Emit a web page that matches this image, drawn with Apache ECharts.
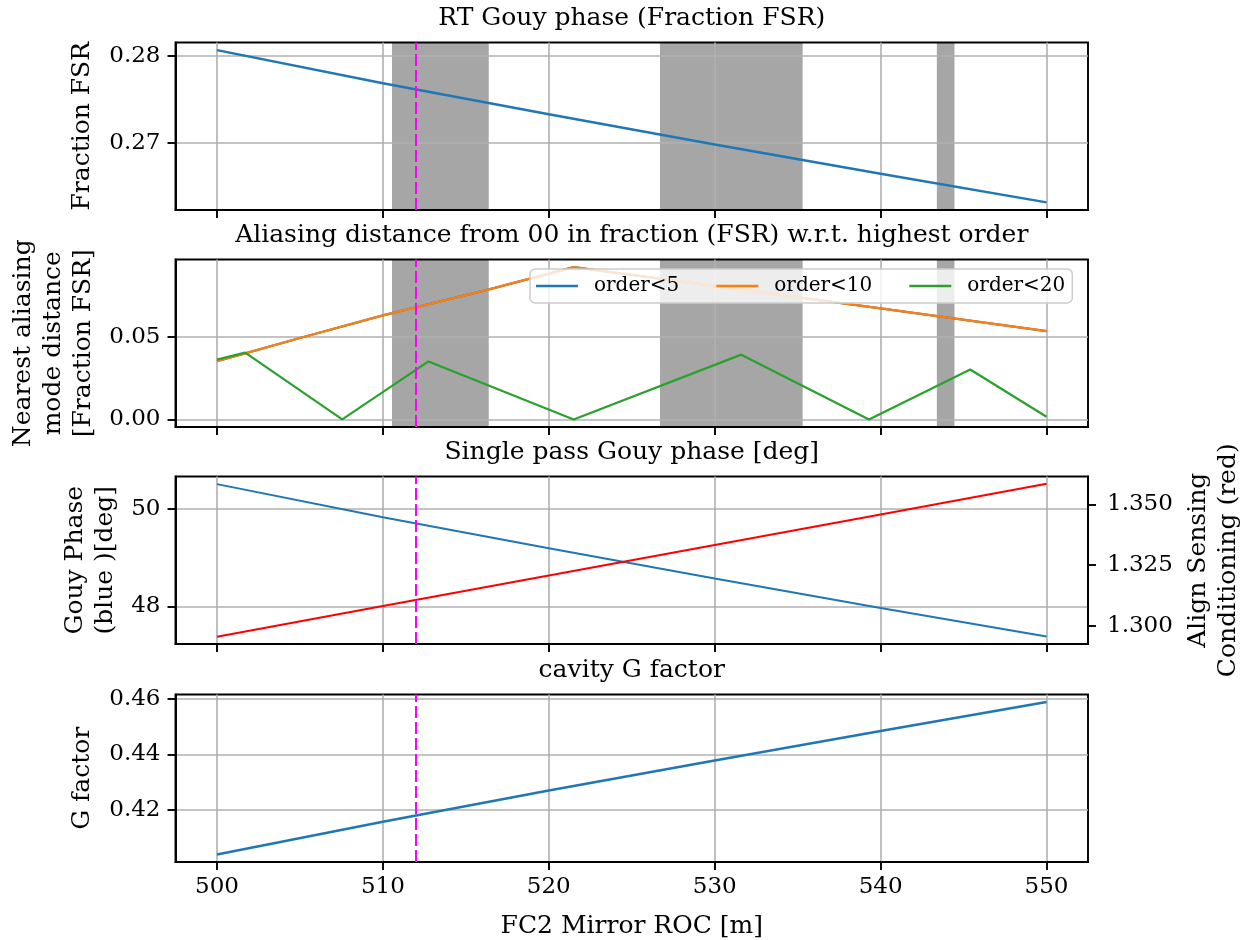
<!DOCTYPE html>
<html>
<head>
<meta charset="utf-8">
<script src="https://cdn.jsdelivr.net/npm/echarts@6/dist/echarts.min.js"></script>
<style>
html,body{margin:0;padding:0;background:#fff;}
#chart{width:1251px;height:940px;}
</style>
</head>
<body>
<div id="chart"></div>
<script>
// ---------------- data ----------------
const X_TICKS = [500, 510, 520, 530, 540, 550];

// panel 1: RT Gouy phase (fraction FSR)
const rtX = [500, 510, 520, 530, 540, 550];
const rtY = [0.28063, 0.27684, 0.27331, 0.26985, 0.26650, 0.26324];

// panel 2: aliasing distance
const aliasLowX = [500, 501.7, 505, 510, 516.4, 521.5, 540, 550];
const order5Y  = [0.0352, 0.0400, 0.0493, 0.0630, 0.0787, 0.0922, 0.0672, 0.0534];
const order10Y = [0.0352, 0.0400, 0.0493, 0.0630, 0.0787, 0.0922, 0.0672, 0.0534];
const order20X = [500, 501.7, 507.55, 512.75, 521.5, 531.6, 539.3, 545.4, 550];
const order20Y = [0.0362, 0.0404, 0.0, 0.0351, 0.0, 0.0392, 0.0, 0.0302, 0.0016];

// panel 3: single pass Gouy phase and align sensing conditioning
const spX = [500, 510, 520, 530, 540, 550];
const gouyDegY = [50.513, 49.831, 49.196, 48.573, 47.970, 47.383];
const alignY   = [1.2956, 1.3082, 1.3207, 1.3333, 1.3458, 1.3584];

// panel 4: cavity G factor
const gX = [500, 510, 520, 530, 540, 550];
const gY = [0.4040, 0.4158, 0.4270, 0.4378, 0.4484, 0.4588];

// shaded bands (start, end) and marker
const shadeStart = [510.55, 526.70, 543.39];
const shadeEnd   = [516.38, 535.30, 544.45];
const MARK_X = 512;

// tick values
const yTicks1 = [0.27, 0.28];
const yTicks2 = [0.00, 0.05];
const yTicks3L = [48, 50];
const yTicks3R = [1.300, 1.325, 1.350];
const yTicks4 = [0.42, 0.44, 0.46];

const legendNames = ['order<5', 'order<10', 'order<20'];
const titles = [
  'RT Gouy phase (Fraction FSR)',
  'Aliasing distance from 00 in fraction (FSR) w.r.t. highest order',
  'Single pass Gouy phase [deg]',
  'cavity G factor'
];

// ---------------- build ----------------
const zip = (xs, ys) => xs.map((x, i) => [x, ys[i]]);
const FONT = "'DejaVu Serif', serif";
const GRID_LEFT = 175.5, GRID_W = 912.5, GRID_H = 167.5;
const GRID_TOPS = [42.5, 259.5, 476.5, 694.5];
const TITLE_TOPS = [6, 223, 440, 657.5];
const X_MIN = 497.5, X_MAX = 552.5;
const BLUE = '#1f77b4', ORANGE = '#ff7f0e', GREEN = '#2ca02c';

const grids = GRID_TOPS.map(t => ({
  left: GRID_LEFT, top: t, width: GRID_W, height: GRID_H,
  outerBoundsMode: 'none', containLabel: false,
  show: true, borderColor: '#000', borderWidth: 1.9, backgroundColor: 'transparent'
}));

function xAxisFor(i, showLabels) {
  return {
    type: 'value', gridIndex: i, min: X_MIN, max: X_MAX,
    axisLine: { show: true, onZero: false, lineStyle: { color: '#000', width: 1.9 } },
    axisTick: { show: true, length: 8, customValues: X_TICKS, lineStyle: { color: '#000', width: 1.9 } },
    axisLabel: { show: showLabels, customValues: X_TICKS, fontSize: 23, color: '#000', fontFamily: FONT, margin: 14 },
    splitLine: { show: true, lineStyle: { color: '#b0b0b0', width: 1.6 } },
    name: showLabels ? 'FC2 Mirror ROC [m]' : '',
    nameLocation: 'middle', nameGap: 52,
    nameTextStyle: { fontSize: 25, color: '#000', fontFamily: FONT }
  };
}

function yAxisFor(i, min, max, ticks, decimals, name, nameGap, opts) {
  opts = opts || {};
  return Object.assign({
    type: 'value', gridIndex: i, min: min, max: max,
    position: 'left',
    axisLine: { show: true, onZero: false, lineStyle: { color: '#000', width: 1.9 } },
    axisTick: { show: true, length: 8, customValues: ticks, lineStyle: { color: '#000', width: 1.9 } },
    axisLabel: { show: true, customValues: ticks, fontSize: 23, color: '#000', fontFamily: FONT, margin: 15,
      formatter: v => Number(v).toFixed(decimals) },
    splitLine: { show: true, lineStyle: { color: '#b0b0b0', width: 1.6 } },
    name: name, nameLocation: 'middle', nameRotate: 90, nameGap: nameGap,
    nameTextStyle: { fontSize: 25, color: '#000', fontFamily: FONT, lineHeight: 30, align: 'center' }
  }, opts);
}

const markLine = {
  silent: true, symbol: ['none', 'none'], label: { show: false },
  lineStyle: { color: '#ff00ff', type: [12, 4], width: 2 },
  data: [{ xAxis: MARK_X }]
};

function shadeSeries(i) {
  return {
    type: 'custom', xAxisIndex: i, yAxisIndex: i, z: -1, silent: true,
    data: shadeStart.map((s, k) => [s, shadeEnd[k]]),
    encode: { x: [0, 1] },
    renderItem: (params, api) => {
      const cs = params.coordSys;
      const a = api.coord([api.value(0), 0]);
      const b = api.coord([api.value(1), 0]);
      return { type: 'rect', shape: { x: a[0], y: cs.y, width: b[0] - a[0], height: cs.height },
        style: { fill: '#a6a6a6' } };
    }
  };
}

function lineSeries(name, xIdx, yIdx, data, color, width, extra) {
  return Object.assign({
    name: name, type: 'line', xAxisIndex: xIdx, yAxisIndex: yIdx, data: data,
    symbol: 'none', showSymbol: false, smooth: false,
    lineStyle: { color: color, width: width }, itemStyle: { color: color }
  }, extra || {});
}

const option = {
  animation: false,
  backgroundColor: '#fff',
  textStyle: { fontFamily: FONT },
  title: titles.map((t, i) => ({
    text: t, left: GRID_LEFT + GRID_W / 2, top: TITLE_TOPS[i], textAlign: 'center', textVerticalAlign: 'top',
    padding: 0,
    textStyle: { fontSize: 25, fontWeight: 'normal', color: '#000', fontFamily: FONT, lineHeight: 25 }
  })),
  legend: {
    data: legendNames, left: 530, top: 269, orient: 'horizontal',
    icon: 'rect', itemWidth: 42, itemHeight: 2.5, itemGap: 37, padding: [7, 7, 7, 6],
    backgroundColor: 'rgba(255,255,255,0.8)', borderColor: '#cccccc', borderWidth: 1.5, borderRadius: 5,
    textStyle: { fontSize: 20, color: '#000', fontFamily: FONT, padding: [0, 0, 0, 11] }
  },
  grid: grids,
  xAxis: [xAxisFor(0, false), xAxisFor(1, false), xAxisFor(2, false), xAxisFor(3, true)],
  yAxis: [
    yAxisFor(0, 0.26237, 0.2815, yTicks1, 2, 'Fraction FSR', 78),
    yAxisFor(1, -0.0046, 0.0968, yTicks2, 2, 'Nearest aliasing\nmode distance\n[Fraction FSR]', 77),
    yAxisFor(2, 47.228, 50.67, yTicks3L, 0, 'Gouy Phase\n(blue )[deg]', 52),
    yAxisFor(2, 1.2926, 1.3614, yTicks3R, 3, 'Align Sensing\nConditioning (red)', 87,
      { position: 'right', splitLine: { show: false },
        axisLabel: { show: true, customValues: yTicks3R, fontSize: 23, color: '#000', fontFamily: FONT, margin: 19,
          formatter: v => Number(v).toFixed(3) } }),
    yAxisFor(3, 0.4013, 0.4615, yTicks4, 2, 'G factor', 78)
  ],
  series: [
    shadeSeries(0),
    lineSeries('RT', 0, 0, zip(rtX, rtY), BLUE, 2.5, { markLine: markLine }),
    shadeSeries(1),
    lineSeries('order<5', 1, 1, zip(aliasLowX, order5Y), BLUE, 2.2),
    lineSeries('order<10', 1, 1, zip(aliasLowX, order10Y), ORANGE, 2.2),
    lineSeries('order<20', 1, 1, zip(order20X, order20Y), GREEN, 2.2, { markLine: markLine }),
    lineSeries('gouy', 2, 2, zip(spX, gouyDegY), BLUE, 2),
    lineSeries('align', 2, 3, zip(spX, alignY), '#ff0000', 2, { markLine: markLine }),
    lineSeries('G', 3, 4, zip(gX, gY), BLUE, 2.5, { markLine: markLine })
  ]
};

const chart = echarts.init(document.getElementById('chart'), null, { renderer: 'canvas' });
chart.setOption(option);
</script>
</body>
</html>
